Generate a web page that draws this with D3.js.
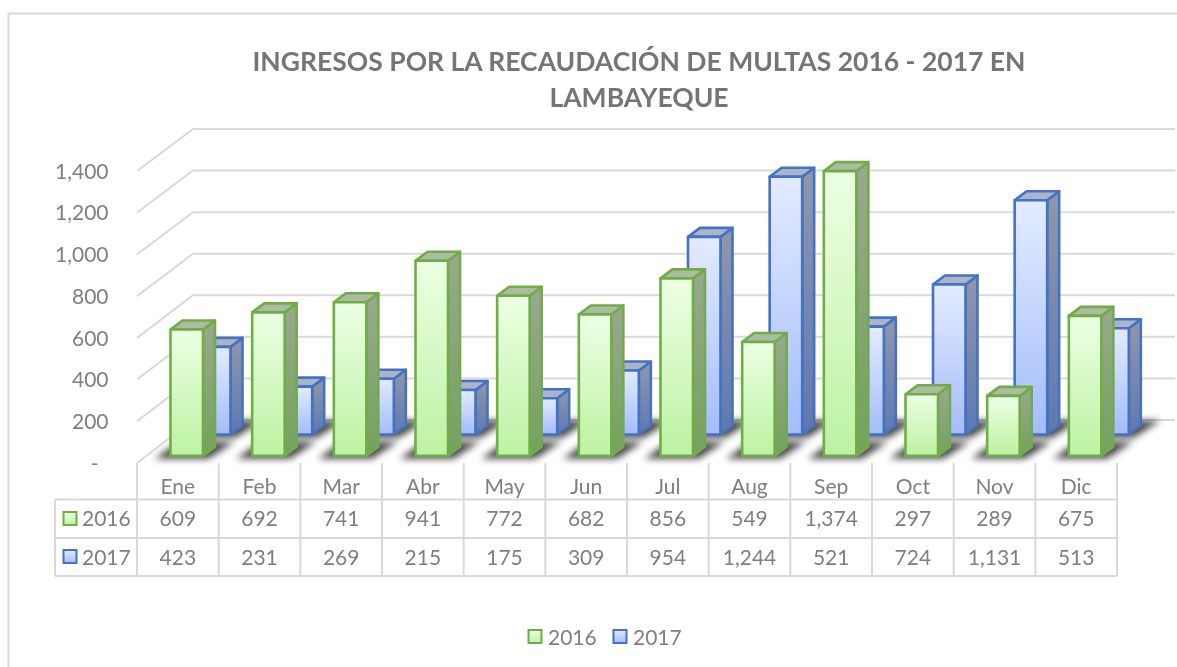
<!DOCTYPE html>
<html>
<head>
<meta charset="utf-8">
<script src="https://cdn.jsdelivr.net/npm/d3@7"></script>
<style>
  html, body { margin: 0; padding: 0; background: #fff; }
  svg { display: block; filter: blur(0.4px); }
  text { font-family: Lato, sans-serif; fill: #7f7f7f; }
</style>
</head>
<body>
<svg id="chart" width="1177" height="667"></svg>
<script>
const months = ['Ene', 'Feb', 'Mar', 'Abr', 'May', 'Jun', 'Jul', 'Aug', 'Sep', 'Oct', 'Nov', 'Dic']
const values2016 = [609, 692, 741, 941, 772, 682, 856, 549, 1374, 297, 289, 675]
const values2017 = [423, 231, 269, 215, 175, 309, 954, 1244, 521, 724, 1131, 513]
const seriesNames = ['2016', '2017']
const yTicks = [0, 200, 400, 600, 800, 1000, 1200, 1400]
const titleLines = ['INGRESOS POR LA RECAUDACIÓN DE MULTAS 2016 - 2017 EN', 'LAMBAYEQUE']

var svg = d3.select('#chart')
var grid = '#d9d9d9'

var x = d3.scaleBand().domain(months).range([137, 1117])
var yFront = d3.scaleLinear().domain([0, 1400]).range([463.5, 171.5])
var yBack = d3.scaleLinear().domain([0, 1400]).range([420, 129])
var barH = d3.scaleLinear().domain([0, 1400]).range([0, 290])
var fmt = d3.format(',')

var defs = svg.append('defs')

function gradient(id, top, bottom) {
  var g = defs.append('linearGradient').attr('id', id)
      .attr('x1', 0).attr('y1', 0).attr('x2', 0).attr('y2', 1)
  g.append('stop').attr('offset', '0%').attr('stop-color', top)
  g.append('stop').attr('offset', '100%').attr('stop-color', bottom)
}

gradient('front2016', '#ecffe4', '#bdf2a2')
gradient('side2016', '#9aa891', '#74a25c')
gradient('front2017', '#e3ebff', '#a3bdfa')
gradient('side2017', '#9097aa', '#5d79b2')

defs.append('filter').attr('id', 'soft')
    .attr('x', '-30%').attr('y', '-50%').attr('width', '160%').attr('height', '200%')
  .append('feGaussianBlur').attr('stdDeviation', 3.5)

// chart frame, the right and bottom sides are cropped in the picture
svg.append('path')
    .attr('d', 'M1177,13.5H8.5V667')
    .attr('fill', 'none').attr('stroke', grid).attr('stroke-width', 2)

// title
svg.append('g').selectAll('text')
    .data(titleLines)
  .enter().append('text')
    .attr('x', 639)
    .attr('y', (d, i) => 71 + i * 35.5)
    .attr('text-anchor', 'middle')
    .attr('font-size', 26.5)
    .attr('font-weight', 700)
    .style('fill', '#757575')
    .text(d => d)

// back wall and side wall gridlines
var walls = svg.append('g').attr('fill', 'none').attr('stroke', grid).attr('stroke-width', 2)
walls.selectAll('path')
    .data(yTicks)
  .enter().append('path')
    .attr('d', d => `M137,${yFront(d) - 0.5}L193,${yBack(d)}H1175`)

// value axis labels
var yAxis = svg.append('g')
    .attr('transform', 'translate(108.5,0)')
    .call(d3.axisLeft(yFront).tickValues(yTicks).tickSize(0).tickPadding(0)
      .tickFormat(d => d === 0 ? '-' : fmt(d)))
yAxis.select('.domain').remove()
yAxis.selectAll('text')
    .attr('font-size', 21)
    .style('font-family', 'Lato, sans-serif')
    .attr('dx', d => d === 0 ? -10 : 0)

// shadows on the floor
function shadows(values, offset, base) {
  svg.append('g')
      .attr('filter', 'url(#soft)')
    .selectAll('polygon')
      .data(values)
    .enter().append('polygon')
      .attr('fill', '#000')
      .attr('fill-opacity', 0.72)
      .attr('points', (d, i) => {
        var left = x(months[i]) + offset
        return [[left - 16, base + 3], [left + 38, base + 3], [left + 64, base - 14], [left + 8, base - 14]].join(' ')
      })
}

shadows(values2017, 61, 434.5)
shadows(values2016, 33.5, 455.7)

// one series of 3d bars
function bars(values, name, offset, base, stroke, topFill) {
  var width = 32.5, dx = 12, dy = 9
  var g = svg.append('g').attr('stroke', stroke).attr('stroke-width', 2.6).attr('stroke-linejoin', 'round')
  var bar = g.selectAll('g')
      .data(values)
    .enter().append('g')
      .attr('transform', (d, i) => `translate(${x(months[i]) + offset},${base})`)

  bar.append('polygon')
      .attr('fill', `url(#side${name})`)
      .attr('points', d => {
        var h = barH(d)
        return [[width, 0], [width + dx, -dy], [width + dx, -h - dy], [width, -h]].join(' ')
      })
  bar.append('polygon')
      .attr('fill', topFill)
      .attr('points', d => {
        var h = barH(d)
        return [[0, -h], [dx, -h - dy], [width + dx, -h - dy], [width, -h]].join(' ')
      })
  bar.append('rect')
      .attr('fill', `url(#front${name})`)
      .attr('x', 0)
      .attr('y', d => -barH(d))
      .attr('width', width)
      .attr('height', d => barH(d))
}

bars(values2017, '2017', 61, 434.5, '#4472c4', '#abb4c9')
bars(values2016, '2016', 33.5, 455.7, '#70ad47', '#abbca3')

// data table under the chart
var rows = [values2016, values2017]
var rowLines = [499.5, 538, 576]
var table = svg.append('g').attr('fill', 'none').attr('stroke', grid).attr('stroke-width', 2)

table.selectAll('.row')
    .data(rowLines)
  .enter().append('line')
    .attr('class', 'row')
    .attr('x1', 55).attr('x2', 1117)
    .attr('y1', d => d).attr('y2', d => d)

table.selectAll('.col')
    .data(months.concat('end'))
  .enter().append('line')
    .attr('class', 'col')
    .attr('x1', (d, i) => d === 'end' ? x.range()[1] : x(d))
    .attr('x2', (d, i) => d === 'end' ? x.range()[1] : x(d))
    .attr('y1', 463).attr('y2', 576)

table.append('line')
    .attr('x1', 55).attr('x2', 55).attr('y1', 499.5).attr('y2', 576)

svg.append('g').selectAll('text')
    .data(months)
  .enter().append('text')
    .attr('x', d => x(d) + x.bandwidth() / 2)
    .attr('y', 494)
    .attr('text-anchor', 'middle')
    .attr('font-size', 21)
    .text(d => d)

rows.forEach((values, r) => {
  svg.append('g').selectAll('text')
      .data(values)
    .enter().append('text')
      .attr('x', (d, i) => x(months[i]) + x.bandwidth() / 2)
      .attr('y', 526 + r * 38.5)
      .attr('text-anchor', 'middle')
      .attr('font-size', 21)
      .text(d => fmt(d))
})

// legend keys, used in the table and at the bottom
function legendKey(px, py, i) {
  svg.append('rect')
      .attr('x', px).attr('y', py)
      .attr('width', 13).attr('height', 13)
      .attr('fill', `url(#front${seriesNames[i]})`)
      .attr('stroke', i === 0 ? '#70ad47' : '#4472c4')
      .attr('stroke-width', 2)
}

seriesNames.forEach((name, i) => {
  legendKey(63.5, 512 + i * 38, i)
  svg.append('text')
      .attr('x', 82).attr('y', 526 + i * 38.5)
      .attr('font-size', 21)
      .text(name)

  legendKey(528.5 + i * 85, 630, i)
  svg.append('text')
      .attr('x', 548 + i * 85).attr('y', 644.5)
      .attr('font-size', 21)
      .text(name)
})
</script>
</body>
</html>
